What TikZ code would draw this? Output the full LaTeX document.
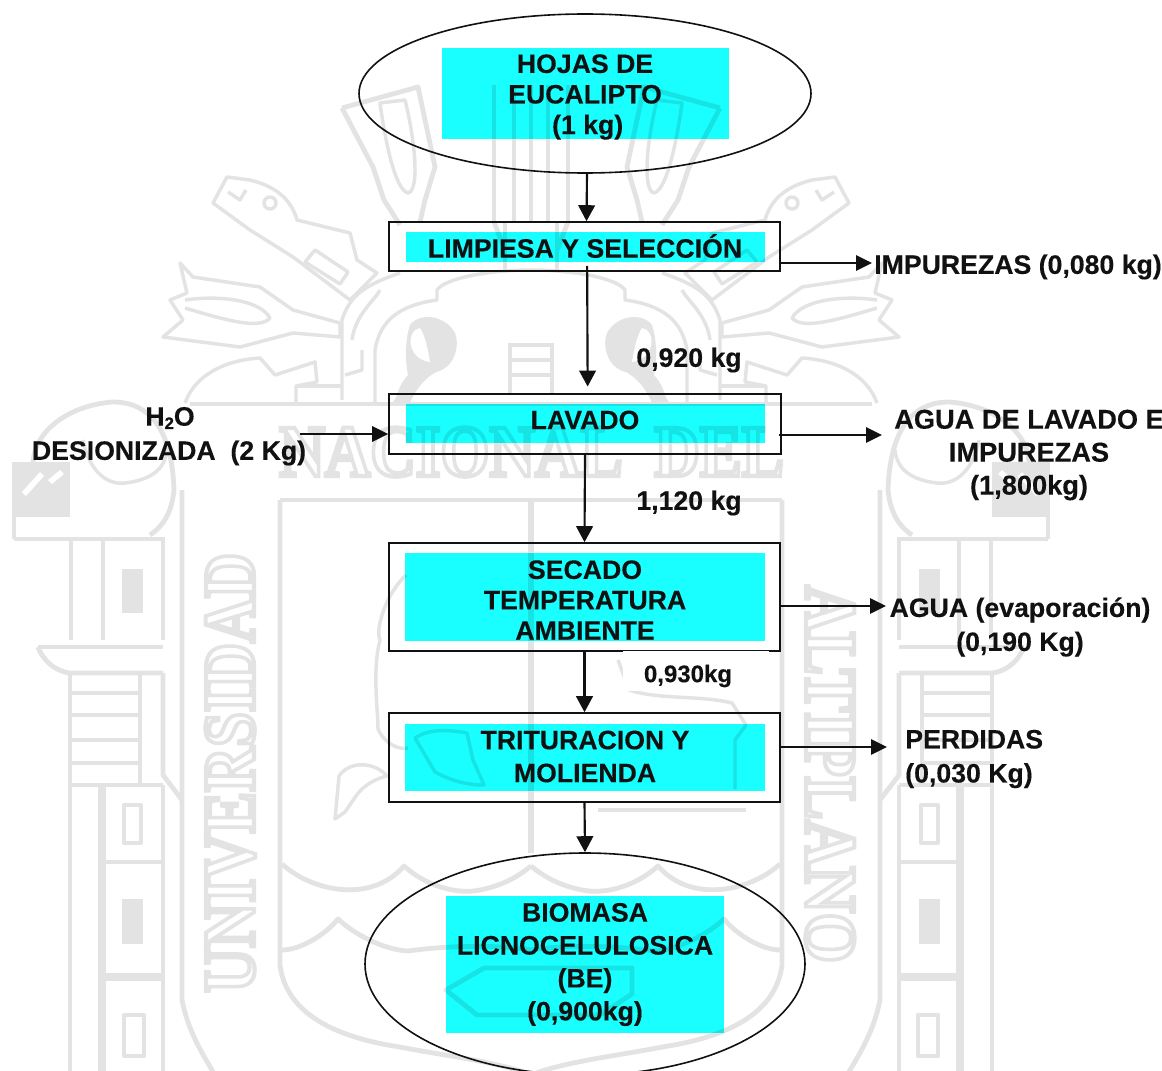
\documentclass[tikz,border=0pt]{standalone}
\usepackage{fontspec}
\usepackage{graphicx}
\setmainfont{Liberation Sans}[BoldFeatures={FakeBold=0.25}]
\newfontfamily\wmfont{Liberation Serif}
\usetikzlibrary{arrows.meta,shapes.geometric,calc}
\definecolor{wmgray}{HTML}{E3E3E3}
\definecolor{cybox}{HTML}{19FFFF}
\definecolor{inkc}{HTML}{111111}
\newcommand{\hollow}{\special{pdf:code 1 Tr 3.1 w}}
\newcommand{\solidtext}{\special{pdf:code 0 Tr 1 w}}
\tikzset{
  wm/.style={draw=wmgray,line width=3.6pt,line join=round,fill=none},
  wmthin/.style={draw=wmgray,line width=2.6pt,line join=round,fill=none},
  wmsolid/.style={fill=wmgray,draw=none},
  wmtext/.style={text=wmgray,inner sep=0pt,font=\wmfont\bfseries\fontsize{55}{55}\selectfont},
  cybg/.style={rectangle,fill=cybox,draw=none,inner sep=0pt,blend mode=multiply},
  frame/.style={rectangle,draw=inkc,line width=1.2pt,fill=none,inner sep=0pt},
  oval/.style={ellipse,draw=inkc,line width=1.2pt,fill=none,inner sep=0pt},
  lab/.style={text=inkc,inner sep=0pt,align=center,font=\bfseries\fontsize{20}{22.6}\selectfont},
  arr/.style={draw=inkc,line width=1.6pt,-{Triangle[length=12pt,width=12.5pt]}},
  side/.style={draw=inkc,line width=1.5pt,-{Triangle[length=12pt,width=11.5pt]}}
}
\newcommand{\halfmark}{%
  % shield
  \draw[wm] (280,500) -- (280,965) .. controls (285,1005) and (320,1035) .. (400,1047) .. controls (440,1055) and (500,1062) .. (531,1075);
  \draw[wm] (280,500) -- (531,500);
  \draw[wm] (282,864) .. controls (310,890) and (370,905) .. (404,866) .. controls (425,885) and (455,895) .. (480,890) .. controls (505,885) and (520,875) .. (531,866);
  \draw[wm] (282,950) .. controls (300,950) and (325,935) .. (338,919) .. controls (355,935) and (385,950) .. (408,951) .. controls (450,945) and (500,945) .. (531,950);
  % big column
  \draw[wm] (182,490) -- (182,1000) .. controls (188,1030) and (200,1050) .. (215,1075);
  \draw[wm] (71,537) -- (71,640);
  \draw[wm] (103,537) -- (103,640);
  \draw[wm] (163,537) -- (163,640);
  \draw[wm] (14,539) -- (163,539);
  \draw[wm] (38,647) -- (163,647);
  \draw[wm] (38,647) .. controls (45,665) and (60,672) .. (70,673) -- (163,673);
  \draw[wm] (70,673) -- (70,1075);
  \draw[wm] (163,673) -- (163,775) -- (182,800);
  \draw[wm] (140,673) -- (140,783);
  \draw[wm] (70,693) -- (140,693);
  \draw[wm] (70,715) -- (140,715);
  \draw[wm] (70,740) -- (140,740);
  \draw[wm] (70,763) -- (140,763);
  \draw[wm] (70,785) -- (163,785);
  \draw[wm,line width=6pt] (102,785) -- (102,1075);
  \draw[wm] (163,785) -- (163,1075);
  \draw[wm] (105,862) -- (163,862);
  \draw[wm,line width=6pt] (105,977) -- (163,977);
  \draw[wm] (124,805) rectangle (141,843);
  \draw[wm] (124,1015) rectangle (144,1056);
  \fill[wmsolid] (122,569) rectangle (143,613);
  \fill[wmsolid] (122,899) rectangle (143,944);
  % capital
  \fill[wmsolid] (12,462) -- (70,462) -- (70,517) -- (12,517) -- cycle;
  \fill[white] (22,492) -- (40,472) -- (44,476) -- (26,496) -- cycle;
  \fill[white] (48,480) -- (60,470) -- (64,474) -- (52,484) -- cycle;
  \draw[wm] (14,517) -- (14,539);
  \draw[wm] (33,462) .. controls (35,430) and (70,405) .. (113,402) .. controls (150,402) and (172,430) .. (174,490) .. controls (172,510) and (165,525) .. (150,535);
  \draw[wmthin] (83,440) .. controls (90,475) and (110,485) .. (125,483) .. controls (150,480) and (165,470) .. (167,450);
  % band
  \draw[wm] (190,404) -- (531,404);
  % dragon
  \draw[wmthin] (213,203) -- (227,177) -- (250,180) .. controls (270,185) and (290,195) .. (297,220) -- (350,233) -- (357,260) -- (377,273) -- (350,300) -- (293,257) -- (250,230) -- cycle;
  \draw[wmthin] (228,192) -- (240,200) -- (246,190);
  \draw[wmthin] (270,203) circle (6);
  \draw[wmthin] (305,262) -- (315,250) -- (348,272) -- (340,284) -- cycle;
  \draw[wmthin] (180,263) -- (193,277) -- (260,287) -- (293,310) -- (340,323) -- (340,337) -- (293,333) -- (240,347) -- (163,337) -- (183,320) -- (170,300) -- (187,293) -- cycle;
  \draw[wmthin] (185,300) .. controls (220,295) and (260,300) .. (270,318) .. controls (260,330) and (225,320) .. (185,308);
  \draw[wmthin] (342,400) -- (342,320) .. controls (350,295) and (365,285) .. (400,273);
  \draw[wmthin] (352,340) .. controls (355,315) and (375,300) .. (380,290);
  \draw[wmthin] (375,403) -- (375,350) .. controls (380,320) and (400,305) .. (437,300) -- (437,290) .. controls (445,278) and (490,270) .. (531,270);
  \draw[wmthin] (345,375) -- (362,370) -- (362,350);
  % lower left heads
  \draw[wmthin] (185,403) .. controls (195,375) and (225,360) .. (260,358) -- (275,375) -- (315,362) -- (317,382) -- (296,386) -- (296,403);
  \draw[wmthin] (296,386) -- (342,386);
  % drop
  \fill[wmsolid] (408,375) .. controls (395,390) and (400,395) .. (392,403) -- (410,403) .. controls (415,390) and (425,378) .. (436,372) .. controls (455,368) and (460,345) .. (455,333) .. controls (445,315) and (420,312) .. (410,325) .. controls (405,340) and (405,360) .. (408,375) -- cycle;
  \fill[white] (415,330) .. controls (405,340) and (412,360) .. (430,362) .. controls (428,350) and (425,335) .. (420,328) -- cycle;
  % temple
  \draw[wmthin] (508,345) -- (531,345);
  \draw[wmthin] (510,345) -- (510,393);
  \draw[wmthin] (512,360) -- (531,360);
  \draw[wmthin] (512,375) -- (531,375);
  % petals
  \draw[wm] (342,108) -- (418,87) -- (435,167) -- (425,200) -- (420,222);
  \draw[wm] (342,108) -- (373,167) -- (384,200) -- (400,225);
  \draw[wmthin] (380,103) .. controls (385,140) and (395,190) .. (408,193) .. controls (420,190) and (415,140) .. (405,100) -- cycle;
  \draw[wm] (494,85) -- (494,222);
  \draw[wm] (514,85) -- (514,222);
  \draw[wmthin] (505,270) -- (505,222);
  \draw[wm] (494,222) -- (505,250);
}
\begin{document}
\begin{tikzpicture}[x=.75pt,y=-.75pt]
\useasboundingbox (0,0) rectangle (1162,1070);
\fill[white] (0,0) rectangle (1162,1070);
\begin{scope}
\clip (0,0) rectangle (1162,1070);
% watermark
\halfmark
\begin{scope}[shift={(1062,0)},xscale=-1]
\halfmark
\end{scope}
\draw[wm,line width=5pt] (531,500) -- (531,853);
\draw[wm] (531,85) -- (531,222);
% single-sided figures of the emblem
\draw[wm] (446,990) -- (484,968) -- (632,968) -- (632,994) -- (600,1015) -- (477,1015) -- cycle;
\draw[wmthin] (406,575) .. controls (385,595) and (375,630) .. (380,640) .. controls (372,670) and (378,710) .. (378,729) .. controls (385,745) and (400,750) .. (408,748);
\draw[wmthin] (335,819) -- (339,776) .. controls (350,760) and (375,762) .. (387,776) .. controls (370,780) and (360,790) .. (356,796) -- (345,812) -- cycle;
\draw[wmthin] (415,738) .. controls (430,728) and (450,730) .. (467,733) -- (473,760) -- (484,785) .. controls (465,785) and (450,780) .. (435,772) -- cycle;
\draw[wmthin] (618,660) -- (629,690) .. controls (660,700) and (700,695) .. (732,703) -- (746,725) -- (735,740) -- (735,789);
\draw[wmthin] (598,810) -- (746,810);
\node[wmtext,anchor=base west] (wmn) at (279,476) {\hollow\scalebox{.86}[1]{NACIONAL}\solidtext};
\node[wmtext,anchor=base west] (wmd) at (654,476) {\hollow\scalebox{.86}[1]{DEL}\solidtext};
\node[wmtext,rotate=90,anchor=base west] (wmu) at (254,993) {\hollow\scalebox{.85}[1]{UNIVERSIDAD}\solidtext};
\node[wmtext,rotate=-90,anchor=base west] (wma) at (806,585) {\hollow\scalebox{.88}[1]{ALTIPLANO}\solidtext};
% cyan panels
\node[cybg,minimum width=287*.75pt,minimum height=91*.75pt] (c1) at (585.5,93.5) {};
\node[cybg,minimum width=359*.75pt,minimum height=30*.75pt] (c2) at (585.5,247) {};
\node[cybg,minimum width=359*.75pt,minimum height=39*.75pt] (c3) at (585.5,423.5) {};
\node[cybg,minimum width=360*.75pt,minimum height=88*.75pt] (c4) at (585,597) {};
\node[cybg,minimum width=360*.75pt,minimum height=67*.75pt] (c5) at (585,757.5) {};
\node[cybg,minimum width=278*.75pt,minimum height=137*.75pt] (c6) at (585,964.5) {};
% frames
\node[oval,minimum width=452*.75pt,minimum height=159*.75pt] (top) at (585,93.5) {};
\node[frame,minimum width=391*.75pt,minimum height=49*.75pt] (b2) at (584.5,246.5) {};
\node[frame,minimum width=392*.75pt,minimum height=60*.75pt] (b3) at (585,424) {};
\node[frame,minimum width=391*.75pt,minimum height=108*.75pt] (b4) at (584.5,597) {};
\node[frame,minimum width=391*.75pt,minimum height=89*.75pt] (b5) at (584.5,757.5) {};
\node[oval,minimum width=440*.75pt,minimum height=222*.75pt] (bot) at (585,964) {};
% white patch under the drying box
\node[fill=white,draw=none,inner sep=0pt,minimum width=146*.75pt,minimum height=40*.75pt,anchor=north west] (patch) at (623,650.5) {};
% texts
\node[lab,font=\bfseries\fontsize{20}{22.9}\selectfont] (t1) at (585,97) {HOJAS DE\\EUCALIPTO\\\hspace*{4pt}(1 kg)};
\node[lab] (t2) at (585,246) {LIMPIESA Y SELECCIÓN};
\node[lab] (t3) at (585,420) {LAVADO};
\node[lab,font=\bfseries\fontsize{20}{22.8}\selectfont] (t4) at (585,600) {SECADO\\TEMPERATURA\\AMBIENTE};
\node[lab,font=\bfseries\fontsize{20}{24.7}\selectfont] (t5) at (585,756.5) {TRITURACION Y\\MOLIENDA};
\node[lab,font=\bfseries\fontsize{20}{24.7}\selectfont] (t6) at (585,964.5) {BIOMASA\\LICNOCELULOSICA\\(BE)\\(0,900kg)};
\node[lab,anchor=west] (imp) at (874,267) {IMPUREZAS (0,080 kg)};
\node[lab,font=\bfseries\fontsize{20.4}{24.7}\selectfont] (agua) at (1029,455) {AGUA DE LAVADO E\\IMPUREZAS\\(1,800kg)};
\node[lab,font=\bfseries\fontsize{20}{25.5}\selectfont] (evap) at (1020,627) {AGUA (evaporación)\\(0,190 Kg)};
\node[lab,align=left,anchor=west,font=\bfseries\fontsize{20}{25.5}\selectfont] (perd) at (905,759) {PERDIDAS\\(0,030 Kg)};
\node[lab] (hdos) at (170,418) {H\raisebox{-2.5pt}{\fontsize{12.5}{12.5}\selectfont 2}O};
\node[lab] (des) at (169,453) {DESIONIZADA\ \ (2 Kg)};
\node[lab] (m1) at (689,360) {0,920 kg};
\node[lab] (m2) at (689,503) {1,120 kg};
\node[lab,font=\bfseries\fontsize{18}{21}\selectfont] (m3) at (688,676) {0,930kg};
% connectors
\coordinate (wIn) at (300,434);
\coordinate (aguaTip) at (882,435);
\coordinate (evapTip) at (886,606);
\coordinate (perdTip) at (887,747);
\coordinate (impTip) at (872,263);
\draw[arr] ([xshift=1.5pt]top.south) -- ([xshift=1.5pt]b2.north);
\draw[arr,shorten <=-4.5pt,shorten >=5pt] ([xshift=2pt]b2.south) -- ([xshift=2pt]b3.north);
\draw[arr] (b3.south) -- (b4.north);
\draw[arr] (b4.south) -- (b5.north);
\draw[arr] (b5.south) -- (bot.north);
\draw[side] (b2.east |- impTip) -- (impTip);
\draw[side] (wIn) -- (b3.west |- wIn);
\draw[side] ($(b3.east |- aguaTip)+(-3,0)$) -- (aguaTip);
\draw[side] (b4.east |- evapTip) -- (evapTip);
\draw[side] (b5.east |- perdTip) -- (perdTip);
\end{scope}
\end{tikzpicture}
\end{document}
